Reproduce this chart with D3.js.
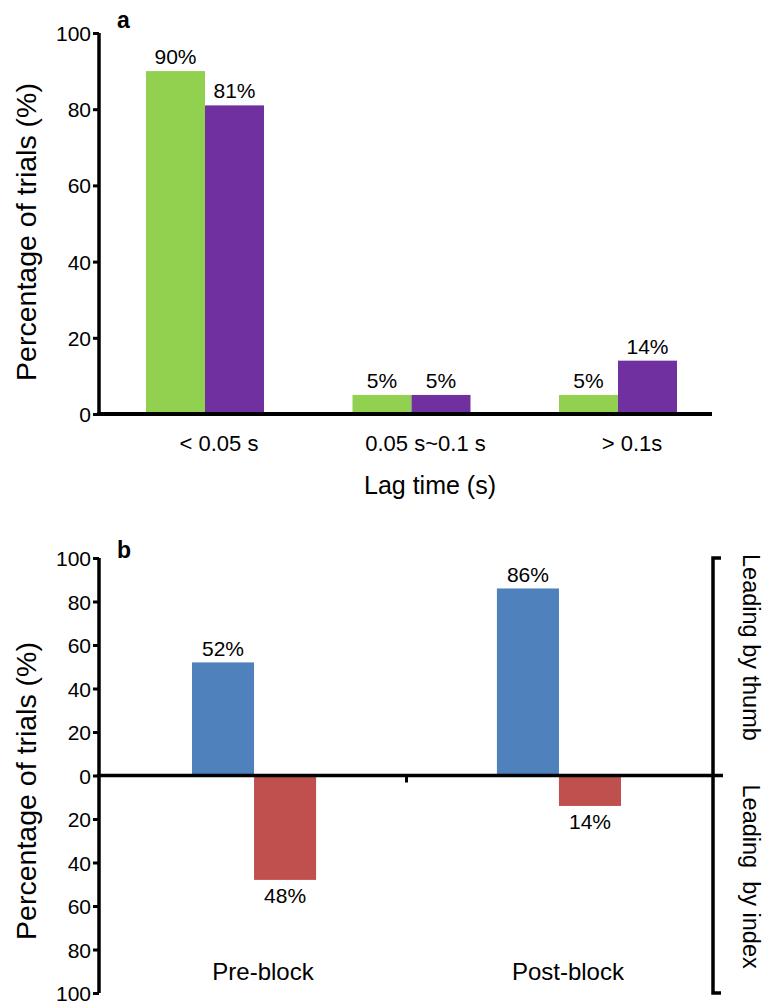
<!DOCTYPE html>
<html lang="en">
<head>
  <meta charset="UTF-8">
  <title>Lag time and leading finger</title>
  <script src="https://d3js.org/d3.v7.min.js"></script>
  <style>
    body { margin: 0; background: #fff; }
    text { font-family: "Liberation Sans", Arial, Helvetica, sans-serif; fill: #000; }
  </style>
</head>
<body>
  <svg id="chart" width="766" height="1002"></svg>
  <script>
    // panel a: lag time distribution
    var lagCats = ["< 0.05 s", "0.05 s~0.1 s", "> 0.1s"];
    var greenVals = [90, 5, 5];
    var purpleVals = [81, 5, 14];
    var aTicks = [0, 20, 40, 60, 80, 100];

    // panel b: leading finger, pre vs post block
    var blockCats = ["Pre-block", "Post-block"];
    var thumbVals = [52, 86];
    var indexVals = [48, 14];
    var bTicks = [-100, -80, -60, -40, -20, 0, 20, 40, 60, 80, 100];

    var svg = d3.select("#chart");

    // ---- panel a ----
    var ya = d3.scaleLinear().domain([0, 100]).range([414, 33]);
    var xa = d3.scaleBand().domain(lagCats).range([99, 724])
      .paddingInner(0.4286).paddingOuter(0.2276);
    var xaSub = d3.scaleBand().domain(["g", "p"]).range([0, xa.bandwidth()]);

    var rowsA = lagCats.map(function (c, i) {
      return [{ cat: c, key: "g", v: greenVals[i] }, { cat: c, key: "p", v: purpleVals[i] }];
    }).flat();

    var ga = svg.append("g");
    ga.selectAll("rect")
      .data(rowsA)
      .enter()
      .append("rect")
      .attr("x", function (d) { return xa(d.cat) + xaSub(d.key); })
      .attr("y", function (d) { return ya(d.v); })
      .attr("width", xaSub.bandwidth())
      .attr("height", function (d) { return ya(0) - ya(d.v); })
      .style("fill", function (d) { return d.key == "g" ? "#92D050" : "#7030A0"; });

    ga.selectAll("text.val")
      .data(rowsA)
      .enter()
      .append("text")
      .attr("class", "val")
      .attr("x", function (d) { return xa(d.cat) + xaSub(d.key) + xaSub.bandwidth() / 2; })
      .attr("y", function (d) { return ya(d.v) - 7; })
      .attr("text-anchor", "middle")
      .style("font-size", "21px")
      .text(function (d) { return d.v + "%"; });

    // y axis a
    var yAxisA = svg.append("g")
      .attr("transform", "translate(99,0)")
      .call(d3.axisLeft(ya).tickValues(aTicks).tickSize(6).tickPadding(2));
    yAxisA.select(".domain").attr("d", "M0," + ya(100) + "V" + ya(0))
      .style("stroke", "#000").style("stroke-width", 3.5);
    yAxisA.selectAll(".tick line").style("stroke-width", 3);
    yAxisA.selectAll(".tick text").style("font-size", "21px").attr("dy", "0.36em");

    // x axis a
    svg.append("line")
      .attr("x1", 97).attr("x2", 712)
      .attr("y1", ya(0)).attr("y2", ya(0))
      .style("stroke", "#000").style("stroke-width", 4);

    svg.append("g").selectAll("text")
      .data(lagCats)
      .enter()
      .append("text")
      .attr("x", function (d) { return xa(d) + xa.bandwidth() / 2 + 14; })
      .attr("y", 451)
      .attr("text-anchor", "middle")
      .style("font-size", "22px")
      .text(function (d) { return d; });

    svg.append("text")
      .attr("x", 430).attr("y", 494)
      .attr("text-anchor", "middle")
      .style("font-size", "25px")
      .text("Lag time (s)");

    svg.append("text")
      .attr("transform", "translate(36,232)rotate(-90)")
      .attr("text-anchor", "middle")
      .style("font-size", "28.5px")
      .text("Percentage of trials (%)");

    svg.append("text")
      .attr("x", 117).attr("y", 28)
      .style("font-size", "23px").style("font-weight", "bold")
      .text("a");

    // ---- panel b ----
    var yb = d3.scaleLinear().domain([-100, 100]).range([993, 558]);
    var xb = d3.scaleBand().domain(blockCats).range([99, 714])
      .paddingInner(0.593).paddingOuter(0.305);
    var xbSub = d3.scaleBand().domain(["t", "i"]).range([0, xb.bandwidth()]);

    var rowsB = blockCats.map(function (c, i) {
      return [{ cat: c, key: "t", v: thumbVals[i] }, { cat: c, key: "i", v: -indexVals[i] }];
    }).flat();

    var gb = svg.append("g");
    gb.selectAll("rect")
      .data(rowsB)
      .enter()
      .append("rect")
      .attr("x", function (d) { return xb(d.cat) + xbSub(d.key); })
      .attr("y", function (d) { return yb(Math.max(0, d.v)); })
      .attr("width", xbSub.bandwidth())
      .attr("height", function (d) { return Math.abs(yb(d.v) - yb(0)); })
      .style("fill", function (d) { return d.key == "t" ? "#4F81BD" : "#C0504D"; });

    gb.selectAll("text.val")
      .data(rowsB)
      .enter()
      .append("text")
      .attr("class", "val")
      .attr("x", function (d) { return xb(d.cat) + xbSub(d.key) + xbSub.bandwidth() / 2; })
      .attr("y", function (d) { return d.v > 0 ? yb(d.v) - 6 : yb(d.v) + 23; })
      .attr("text-anchor", "middle")
      .style("font-size", "21px")
      .text(function (d) { return Math.abs(d.v) + "%"; });

    var yAxisB = svg.append("g")
      .attr("transform", "translate(99,0)")
      .call(d3.axisLeft(yb).tickValues(bTicks).tickSize(6).tickPadding(2)
        .tickFormat(function (d) { return Math.abs(d); }));
    yAxisB.select(".domain").attr("d", "M0," + yb(100) + "V" + yb(-100))
      .style("stroke", "#000").style("stroke-width", 3.5);
    yAxisB.selectAll(".tick line").style("stroke-width", 3);
    yAxisB.selectAll(".tick text").style("font-size", "21px").attr("dy", "0.36em");

    // zero line and middle tick
    svg.append("line")
      .attr("x1", 97).attr("x2", 723)
      .attr("y1", yb(0)).attr("y2", yb(0))
      .style("stroke", "#000").style("stroke-width", 3.5);
    var midX = (xb(blockCats[0]) + xb.bandwidth() + xb(blockCats[1])) / 2;
    svg.append("line")
      .attr("x1", midX).attr("x2", midX)
      .attr("y1", yb(0)).attr("y2", yb(0) + 7)
      .style("stroke", "#000").style("stroke-width", 3);

    // right bracket
    var bx = 713;
    svg.append("path")
      .attr("d", "M" + (bx + 8) + "," + yb(100) + "H" + bx + "V" + yb(-100) + "H" + (bx + 8))
      .style("fill", "none").style("stroke", "#000").style("stroke-width", 3.5);

    svg.append("text")
      .attr("transform", "translate(743," + (yb(100) - 4) + ")rotate(90)")
      .style("font-size", "23.5px")
      .text("Leading by thumb");
    svg.append("text")
      .attr("transform", "translate(743," + (yb(0) + 9) + ")rotate(90)")
      .style("font-size", "23.5px")
      .style("white-space", "pre")
      .text("Leading  by index");

    svg.append("g").selectAll("text")
      .data(blockCats)
      .enter()
      .append("text")
      .attr("x", function (d) { return xb(d) + xb.bandwidth() / 2 + 9; })
      .attr("y", 980)
      .attr("text-anchor", "middle")
      .style("font-size", "24px")
      .text(function (d) { return d; });

    svg.append("text")
      .attr("transform", "translate(36,791)rotate(-90)")
      .attr("text-anchor", "middle")
      .style("font-size", "28.5px")
      .text("Percentage of trials (%)");

    svg.append("text")
      .attr("x", 117).attr("y", 558)
      .style("font-size", "23px").style("font-weight", "bold")
      .text("b");
  </script>
</body>
</html>
